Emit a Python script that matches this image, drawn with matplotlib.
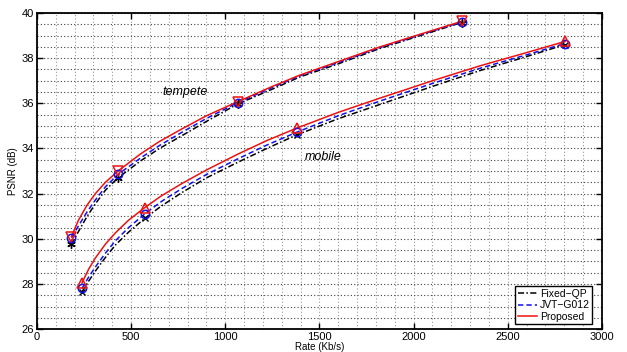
import matplotlib
matplotlib.use("Agg")
import matplotlib.pyplot as plt
from matplotlib.ticker import MultipleLocator

# ---- data ----
# tempete curves
tem_rate = [183, 220, 265, 310, 363, 430, 550, 650, 770, 900, 1065, 1250, 1396, 1600, 1821, 2050, 2255]
tem_prop = [30.1, 30.82, 31.48, 32.0, 32.5, 33.0, 33.76, 34.31, 34.87, 35.45, 36.07, 36.75, 37.25, 37.85, 38.5, 39.1, 39.63]
tem_jvt = [30.05, 30.57, 31.18, 31.72, 32.3, 32.85, 33.58, 34.13, 34.72, 35.33, 36.03, 36.7, 37.22, 37.8, 38.47, 39.07, 39.6]
tem_fix = [29.75, 30.32, 30.98, 31.55, 32.15, 32.7, 33.45, 34.0, 34.57, 35.2, 35.97, 36.63, 37.17, 37.75, 38.43, 39.04, 39.58]

# mobile curves
mob_rate = [239, 274, 310, 363, 416, 487, 572, 660, 770, 900, 1069, 1220, 1379, 1600, 1821, 2100, 2352, 2580, 2804]
mob_prop = [28.05, 28.65, 29.15, 29.76, 30.26, 30.83, 31.38, 31.9, 32.45, 33.05, 33.76, 34.35, 34.9, 35.6, 36.23, 37.0, 37.66, 38.2, 38.74]
mob_jvt = [27.8, 28.3, 28.75, 29.36, 29.91, 30.5, 31.1, 31.65, 32.23, 32.85, 33.55, 34.15, 34.72, 35.45, 36.1, 36.88, 37.55, 38.1, 38.65]
mob_fix = [27.65, 28.12, 28.57, 29.17, 29.72, 30.3, 30.9, 31.45, 32.05, 32.7, 33.4, 34.0, 34.6, 35.32, 35.95, 36.75, 37.45, 38.02, 38.6]

# encoded points (markers)
tem_pts_rate = [183, 430, 1065, 2255]
tem_pts_prop = [30.1, 33.0, 36.07, 39.63]
tem_pts_jvt = [30.05, 32.85, 36.03, 39.6]
tem_pts_fix = [29.75, 32.7, 35.97, 39.58]
mob_pts_rate = [239, 572, 1379, 2804]
mob_pts_prop = [28.05, 31.38, 34.9, 38.74]
mob_pts_jvt = [27.8, 31.1, 34.72, 38.65]
mob_pts_fix = [27.65, 30.9, 34.6, 38.6]

labels = ["Fixed\u2212QP", "JVT\u2212G012", "Proposed"]
x_ticks = [0, 500, 1000, 1500, 2000, 2500, 3000]
y_ticks = [26, 28, 30, 32, 34, 36, 38, 40]

plt.rcParams['font.family'] = ['Liberation Sans', 'DejaVu Sans']

fig = plt.figure(figsize=(6.27, 3.52), dpi=100)
ax = fig.add_axes([0.059, 0.065, 0.901, 0.898])

lw = 1.1
fix_style = dict(color='black', linestyle=(0, (4, 1.5, 1, 1.5)), linewidth=lw)
jvt_style = dict(color='#1010ee', linestyle=(0, (3.5, 2)), linewidth=lw)
prop_style = dict(color='#ee1111', linestyle='-', linewidth=lw)

l1, = ax.plot(tem_rate, tem_fix, **fix_style)
l2, = ax.plot(tem_rate, tem_jvt, **jvt_style)
l3, = ax.plot(tem_rate, tem_prop, **prop_style)
ax.plot(mob_rate, mob_fix, **fix_style)
ax.plot(mob_rate, mob_jvt, **jvt_style)
ax.plot(mob_rate, mob_prop, **prop_style)

ms = 6
ax.plot(tem_pts_rate, tem_pts_fix, linestyle='none', marker=(6, 2, 0), color='black', markersize=ms, mew=1.0)
ax.plot(tem_pts_rate, tem_pts_jvt, linestyle='none', marker='o', mfc='none', mec='#1010ee', markersize=ms, mew=1.1)
ax.plot(tem_pts_rate, tem_pts_prop, linestyle='none', marker='v', mfc='none', mec='#ee1111', markersize=ms + 1, mew=1.1)
ax.plot(mob_pts_rate, mob_pts_fix, linestyle='none', marker='x', color='black', markersize=ms - 1, mew=1.0)
ax.plot(mob_pts_rate, mob_pts_jvt, linestyle='none', marker='o', mfc='none', mec='#1010ee', markersize=ms, mew=1.1)
ax.plot(mob_pts_rate, mob_pts_prop, linestyle='none', marker='^', mfc='none', mec='#ee1111', markersize=ms + 1, mew=1.1)

ax.set_xlim(0, 3000)
ax.set_ylim(26, 40)
ax.set_xticks(x_ticks)
ax.set_yticks(y_ticks)
ax.xaxis.set_minor_locator(MultipleLocator(100))
ax.yaxis.set_minor_locator(MultipleLocator(0.5))
ax.tick_params(which='major', direction='in', length=4, width=1, top=True, right=True, labelsize=8, pad=2)
ax.tick_params(which='minor', length=0)
ax.xaxis.grid(True, which='both', color='0.6', linestyle=(0, (1, 2)), linewidth=0.8)
ax.yaxis.grid(True, which='both', color='0.25', linestyle=(0, (1, 2)), linewidth=0.8)
ax.set_axisbelow(True)
for s in ax.spines.values():
    s.set_linewidth(1.3)

ax.set_xlabel("Rate (Kb/s)", fontsize=7, labelpad=0)
ax.set_ylabel("PSNR (dB)", fontsize=7, labelpad=3)

ax.text(664, 36.5, "tempete", fontsize=9, style='italic', va='center', ha='left')
ax.text(1423, 33.63, "mobile", fontsize=9, style='italic', va='center', ha='left')

leg = ax.legend([l1, l2, l3], labels, loc='lower right', fontsize=7.5, frameon=True,
                fancybox=False, edgecolor='black', framealpha=1, borderpad=0.25,
                handlelength=1.8, handletextpad=0.3, labelspacing=0.15,
                bbox_to_anchor=(0.983, 0.015), borderaxespad=0)
leg.get_frame().set_linewidth(1.0)

fig.savefig("out.png", dpi=100)
